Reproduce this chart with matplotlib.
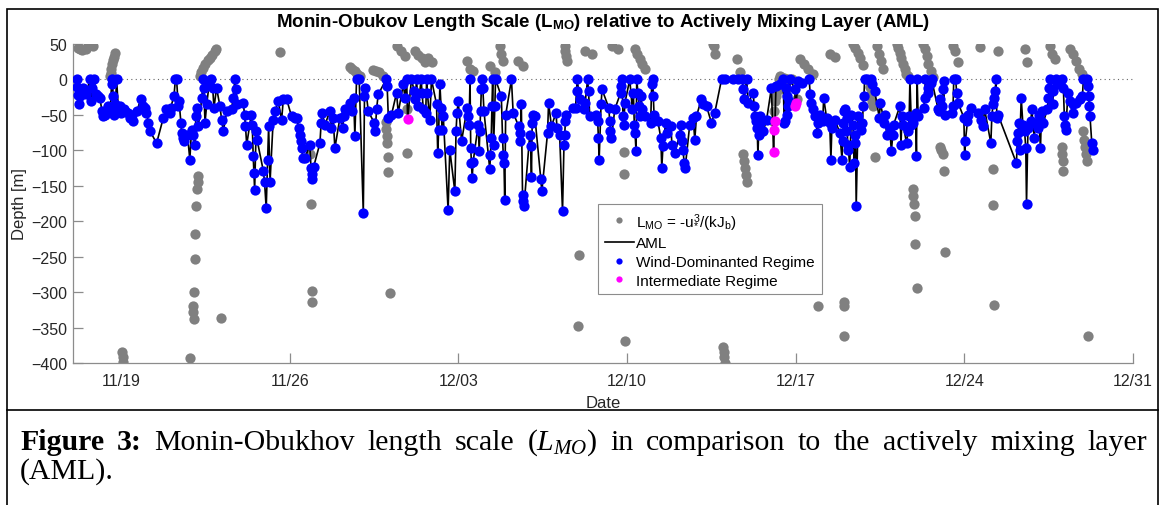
import matplotlib
matplotlib.use("Agg")
import matplotlib.pyplot as plt
import matplotlib.dates as mdates
from matplotlib.lines import Line2D
from matplotlib.patches import Rectangle
import numpy as np
import pandas as pd

plt.rcParams['font.family'] = ['Liberation Sans', 'DejaVu Sans']
plt.rcParams['mathtext.fontset'] = 'custom'
plt.rcParams['mathtext.rm'] = 'Liberation Sans'
plt.rcParams['mathtext.it'] = 'Liberation Serif:italic'
plt.rcParams['mathtext.bf'] = 'Liberation Sans:bold'

# Start of the record; all times below are days after this date
start_date = pd.Timestamp('2019-11-17')

# AML depth in the wind-dominated regime (day, depth in m)
aml_wind = [
    (0.15, 0), (0.18, -10), (0.21, -22), (0.25, -35), (0.30, -24), (0.40, -12), (0.50, -16), (0.55, -20),
    (0.70, 0), (0.75, -31), (0.80, -12), (0.88, 0), (0.95, -20), (1.05, -24), (1.12, -26), (1.20, -45),
    (1.26, -52), (1.32, -50), (1.38, -48), (1.47, -38), (1.55, -45), (1.60, -7), (1.63, 0), (1.67, -24),
    (1.70, -50), (1.76, -35), (1.81, 0), (1.88, -40), (1.95, -38), (2.00, -47), (2.10, -42), (2.16, -45),
    (2.30, -47), (2.37, -54), (2.45, -50), (2.50, -59), (2.65, -45), (2.81, -28), (2.90, -38), (3.00, -40),
    (3.05, -47), (3.13, -61), (3.20, -73), (3.47, -90), (3.75, -54), (3.88, -42), (4.02, -47), (4.05, -40),
    (4.19, -24), (4.25, 0), (4.30, 0), (4.37, -38), (4.40, -30), (4.48, -61), (4.51, -75), (4.55, -83),
    (4.62, -87), (4.75, -78), (4.85, -113), (4.92, -71), (4.98, -78), (5.06, -92), (5.10, -52), (5.15, -40),
    (5.20, -66), (5.35, -26), (5.40, 0), (5.43, -12), (5.48, -61), (5.55, -35), (5.65, -7), (5.72, 0),
    (5.80, -12), (5.85, -40), (5.96, -12), (6.10, -38), (6.17, -57), (6.24, -73), (6.38, -45), (6.58, -42),
    (6.65, -26), (6.72, 0), (6.76, -14), (6.82, -35), (7.07, -33), (7.12, -50), (7.16, -66), (7.21, -92),
    (7.40, -50), (7.44, -64), (7.48, -108), (7.51, -132), (7.54, -156), (7.60, -73), (7.64, -85),
    (7.90, -129), (7.95, -144), (8.02, -182), (8.08, -113), (8.12, -66), (8.18, -144), (8.31, -57),
    (8.38, -45), (8.52, -31), (8.66, -57), (8.73, -28), (8.87, -28), (9.07, -52), (9.20, -54), (9.28, -55),
    (9.38, -68), (9.42, -78), (9.47, -87), (9.50, -97), (9.53, -111), (9.63, -111), (9.83, -92),
    (9.88, -125), (9.91, -134), (9.94, -141), (9.99, -123), (10.25, -90), (10.30, -61), (10.34, -47),
    (10.46, -64), (10.66, -45), (10.73, -68), (10.80, -54), (10.87, -97), (11.08, -54), (11.20, -68),
    (11.24, -52), (11.29, -42), (11.49, -33), (11.60, -45), (11.65, -26), (11.70, -80), (11.77, 0),
    (11.88, 0), (12.05, -188), (12.10, -24), (12.14, -12), (12.26, -45), (12.50, -61), (12.55, -73),
    (12.60, -42), (12.67, -21), (13.00, 0), (13.04, -9), (13.09, -54), (13.22, -50), (13.43, -19),
    (13.50, -47), (13.71, -7), (13.78, -26), (13.85, 0), (14.05, 0), (14.17, -17), (14.21, -28),
    (14.26, 0), (14.33, -38), (14.45, 0), (14.49, -19), (14.54, -42), (14.64, -47), (14.68, 0),
    (14.71, -19), (14.81, -57), (14.88, 0), (15.09, -35), (15.14, -104), (15.18, -71), (15.23, -7),
    (15.28, -40), (15.32, -71), (15.37, -52), (15.57, -184), (15.64, -99), (15.85, -158), (15.90, -73),
    (15.94, -47), (15.99, -31), (16.13, -87), (16.36, -40), (16.40, -52), (16.44, -64), (16.48, 0),
    (16.51, -97), (16.54, -118), (16.57, -139), (16.61, -116), (16.82, -64), (16.86, -101), (16.89, -73),
    (16.92, -45), (16.95, -14), (16.98, 0), (17.01, -12), (17.06, -45), (17.30, -127), (17.33, -106),
    (17.36, -83), (17.39, -38), (17.42, 0), (17.46, -92), (17.51, -38), (17.54, 0), (17.78, -24),
    (17.83, -83), (17.86, -106), (17.89, -118), (17.92, -170), (17.96, -50), (18.20, 0), (18.27, -47),
    (18.50, -66), (18.54, -75), (18.57, -87), (18.61, -35), (18.66, -163), (18.69, -172), (18.72, -179),
    (18.96, -78), (19.00, -94), (19.03, -137), (19.06, -61), (19.09, -50), (19.17, -52), (19.42, -141),
    (19.46, -158), (19.70, -75), (19.74, -33), (19.86, -66), (20.05, -47), (20.09, -68), (20.20, -78),
    (20.32, -186), (20.38, -92), (20.41, -78), (20.44, -59), (20.48, -50), (20.76, -40), (20.86, -40),
    (20.90, -17), (20.93, 0), (21.03, -28), (21.22, -42), (21.26, -33), (21.36, 0), (21.40, -17),
    (21.45, -52), (21.73, -50), (21.78, -59), (21.81, -83), (21.84, -113), (21.92, -35), (21.96, -14),
    (22.24, -40), (22.28, -59), (22.31, -73), (22.35, -83), (22.49, -42), (22.73, -19), (22.76, -9),
    (22.79, 0), (22.83, -52), (22.86, -64), (22.91, -33), (23.11, 0), (23.22, -42), (23.26, -19),
    (23.30, -64), (23.33, -75), (23.37, -101), (23.40, 0), (23.45, -19), (23.50, -38), (23.54, -52),
    (23.58, -24), (23.62, -42), (23.73, -52), (23.98, -61), (24.02, -7), (24.06, 0), (24.09, -24),
    (24.12, -50), (24.16, -57), (24.28, -59), (24.40, -83), (24.44, -125), (24.49, -94), (24.60, -61),
    (24.65, -75), (24.82, -66), (24.86, -92), (24.98, -104), (25.18, -78), (25.23, -64), (25.27, -87),
    (25.32, -99), (25.37, -118), (25.41, -125), (25.60, -64), (25.74, -54), (25.81, -85), (25.88, -52),
    (26.08, -28), (26.15, -35), (26.30, -38), (26.50, -61), (26.64, -47), (26.92, 0), (27.06, 0),
    (27.40, 0), (27.61, 0), (27.78, 0), (27.82, -14), (27.86, -28), (27.96, 0), (28.03, -33),
    (28.23, -19), (28.28, -38), (28.32, -52), (28.36, -59), (28.40, -68), (28.43, -106), (28.46, -78),
    (28.50, -61), (28.53, -52), (28.65, -73), (28.79, -57), (28.99, -12), (29.18, -9), (29.34, -7),
    (29.48, 0), (29.52, -61), (29.55, -59), (29.58, -12), (29.62, -50), (29.65, -24), (29.69, -38),
    (29.73, -31), (29.77, 0), (29.96, -14), (30.10, -2), (30.24, -5), (30.56, 0), (30.60, -21),
    (30.65, -33), (30.72, -42), (30.79, -52), (30.90, -75), (30.94, -61), (31.00, -50), (31.12, -59),
    (31.16, -26), (31.28, -54), (31.41, -61), (31.46, -113), (31.50, -68), (31.62, -57), (31.83, -75),
    (31.92, -113), (31.95, -87), (31.98, -61), (32.01, -45), (32.04, -42), (32.09, -73), (32.12, -54),
    (32.16, -92), (32.19, -99), (32.24, -123), (32.31, -50), (32.38, -64), (32.42, -118), (32.45, -90),
    (32.48, -78), (32.51, -179), (32.59, -52), (32.73, -71), (32.77, -61), (32.80, -38), (32.83, -24),
    (32.86, 0), (32.94, 0), (33.12, 0), (33.16, -7), (33.28, -17), (33.47, -54), (33.51, -33),
    (33.68, -61), (33.72, -50), (33.77, -78), (33.90, -68), (33.97, -101), (34.03, -78), (34.06, -64),
    (34.32, -38), (34.37, -92), (34.41, -52), (34.46, -64), (34.60, -90), (34.66, -73), (34.71, -52),
    (34.74, 0), (34.80, -64), (34.87, -61), (34.98, -47), (35.01, -108), (35.04, 0), (35.08, -52),
    (35.32, -40), (35.35, -26), (35.38, 0), (35.47, -19), (35.51, -12), (35.60, -5), (35.64, 0),
    (35.91, -42), (35.96, -45), (35.99, -28), (36.07, -38), (36.11, -14), (36.14, -2), (36.18, -50),
    (36.50, -47), (36.53, -38), (36.56, 0), (36.64, 0), (36.68, -19), (36.74, -33), (36.98, -54),
    (37.01, -106), (37.04, -87), (37.13, -59), (37.17, -50), (37.29, -40), (37.57, -47), (37.70, -57),
    (37.77, -66), (37.84, -42), (38.10, -90), (38.14, -52), (38.19, -35), (38.24, -26), (38.28, -17),
    (38.31, 0), (38.35, -54), (38.40, -50), (39.16, -118), (39.20, -87), (39.23, -75), (39.26, -61),
    (39.29, -99), (39.36, -26), (39.43, -64), (39.50, -73), (39.55, -97), (39.58, -176), (39.64, -68),
    (39.76, -59), (39.80, -42), (39.90, -83), (39.94, -61), (40.04, -68), (40.08, -50), (40.16, -97),
    (40.19, -59), (40.22, -45), (40.27, -61), (40.45, -42), (40.49, -26), (40.53, -12), (40.56, 0),
    (40.66, -35), (40.70, -17), (40.80, 0), (40.84, -7), (40.95, -7), (41.07, 0), (41.11, -12),
    (41.15, -52), (41.18, -64), (41.21, -71), (41.30, -19), (41.37, -31), (41.49, -47), (41.53, -35),
    (41.65, -33), (41.78, -28), (41.90, -24), (41.94, 0), (42.10, 0), (42.13, -9), (42.16, -24),
    (42.19, -38), (42.22, -52), (42.29, -90), (42.33, -99),
]

# AML depth in the intermediate regime (day, depth in m)
aml_intermediate = [
    (13.89, -56), (29.08, -102), (29.11, -71), (29.14, -59), (29.99, -38), (30.02, -33),
]

# Monin-Obukhov length (day, L_MO in m), shown within the depth range only
lmo_points = [
    (0.21, 45), (0.30, 43), (0.37, 41), (0.54, 43), (0.62, 47), (0.71, 48), (0.78, 50), (0.83, 47),
    (1.54, 5), (1.56, 9), (1.58, 15), (1.62, 22), (1.66, 27), (1.70, 32), (1.74, 38),
    (2.05, -385), (2.07, -392), (2.09, -398),
    (4.85, -393), (4.98, -320), (5.00, -328), (5.02, -338), (5.04, -300), (5.06, -253), (5.08, -218),
    (5.12, -178), (5.15, -155), (5.17, -145), (5.19, -136),
    (5.27, 5), (5.32, 10), (5.40, 16), (5.50, 22), (5.60, 27), (5.70, 30), (5.78, 35), (5.88, 40), (5.95, 43),
    (6.14, -337), (8.59, 39),
    (9.83, -105), (9.88, -176), (9.90, -299), (9.92, -314),
    (11.49, 17), (11.60, 15), (11.70, 12), (11.80, 8), (11.91, 5),
    (12.45, 14), (12.58, 12), (12.70, 10), (12.86, 5),
    (12.98, -60), (13.00, -70), (13.02, -80), (13.04, -90), (13.06, -110), (13.08, -130), (13.15, -301),
    (13.44, 47), (13.61, 40), (13.78, 33), (13.86, -42), (13.88, -104),
    (14.19, 40), (14.33, 35), (14.47, 30), (14.61, 25), (14.75, 30), (14.90, 25),
    (16.35, 26), (16.48, 15), (16.60, 12), (17.30, 19), (17.51, 10),
    (17.72, 47), (17.78, 36), (17.84, 26), (18.46, 26), (18.67, 19),
    (20.41, 47), (20.44, 40), (20.47, 33), (20.50, 26), (20.95, -348), (21.00, -248),
    (21.24, 40), (21.54, 36), (22.37, 47), (22.61, 43),
    (22.86, -103), (22.88, -133), (22.90, -369),
    (23.32, 43), (23.42, 36), (23.52, 29), (23.63, 22), (23.73, 15),
    (26.56, 50), (26.60, 47), (26.64, 36),
    (26.99, -378), (27.01, -385), (27.03, -392), (27.05, -400),
    (27.55, 29), (27.68, 10),
    (27.80, -105), (27.84, -115), (27.88, -125), (27.92, -135), (27.97, -145),
    (29.05, -58), (29.10, -45), (29.15, -30), (29.20, -23), (29.25, -15), (29.30, 0), (29.34, 5),
    (29.50, 2), (29.65, 0), (29.83, 0), (30.04, -28),
    (30.17, 29), (30.35, 22), (30.50, 15), (30.70, 8), (30.91, -320),
    (31.41, 36), (31.62, 32), (31.99, -314), (32.00, -362), (32.02, -320),
    (32.37, 50), (32.48, 45), (32.58, 38), (32.68, 30), (32.78, 20),
    (33.07, -11), (33.12, -20), (33.17, -30), (33.22, -37), (33.28, -110),
    (33.36, 47), (33.45, 36), (33.53, 26), (33.61, 15),
    (34.19, 50), (34.25, 45), (34.31, 38), (34.38, 30), (34.45, 22), (34.52, 15), (34.58, 8), (34.65, 5),
    (34.85, -155), (34.88, -165), (34.91, -175), (34.94, -193), (34.97, -232), (35.02, -294),
    (35.27, 50), (35.35, 43), (35.43, 33), (35.51, 22), (35.60, 12), (35.68, 3),
    (35.98, -95), (36.05, -100), (36.12, -105), (36.15, -129), (36.18, -243),
    (36.51, 47), (36.62, 40), (36.72, 24), (37.63, 46),
    (38.17, -127), (38.20, -177), (38.22, -318), (38.38, 40),
    (39.50, 43), (39.59, 24), (40.54, 47), (40.65, 36), (40.75, 29),
    (41.04, -96), (41.06, -105), (41.08, -115), (41.10, -129),
    (41.37, 43), (41.50, 36), (41.62, 26), (41.75, 15), (41.87, 8),
    (41.91, -73), (41.95, -85), (41.99, -95), (42.03, -105), (42.08, -115), (42.12, -362),
]

# Axis settings
y_ticks = list(range(-400, 51, 50))
x_ticks = pd.date_range('2019-11-19', '2019-12-31', freq='7D')

caption_line1 = ["Figure", "3:", "Monin-Obukhov", "length", "scale", "($L_{MO}$)", "in",
                 "comparison", "to", "the", "actively", "mixing", "layer"]
caption_line2 = "(AML)."


def to_dates(days):
    return mdates.date2num(start_date) + np.asarray(days, dtype=float)


W, H = 1162, 506
fig = plt.figure(figsize=(W / 100, H / 100), dpi=100)
ax = fig.add_axes([73 / W, 1 - 364 / H, (1133 - 73) / W, (364 - 45) / H])

wind = np.array(aml_wind)
inter = np.array(aml_intermediate)
lmo = np.array(lmo_points)
# The AML line runs through both regimes in time order
aml_all = np.concatenate([wind, inter])
aml_all = aml_all[np.argsort(aml_all[:, 0])]

ms = 7.4
ax.axhline(0, color='#666666', linestyle=(0, (1, 3)), linewidth=0.8, zorder=1)
ax.plot(to_dates(lmo[:, 0]), lmo[:, 1], 'o', color='#808080', markersize=ms, markeredgewidth=0, zorder=2)
ax.plot(to_dates(aml_all[:, 0]), aml_all[:, 1], '-', color='black', linewidth=1.2, zorder=3)
ax.plot(to_dates(wind[:, 0]), wind[:, 1], 'o', color='#0000ff', markersize=ms, markeredgewidth=0, zorder=4)
ax.plot(to_dates(inter[:, 0]), inter[:, 1], 'o', color='#ff00ff', markersize=ms, markeredgewidth=0, zorder=5)

ax.set_xlim(to_dates([0, 44]))
ax.set_ylim(-400, 50)
ax.set_yticks(y_ticks)
ax.set_xticks(mdates.date2num(x_ticks))
ax.xaxis.set_major_formatter(mdates.DateFormatter('%m/%d'))

for side in ['top', 'right']:
    ax.spines[side].set_visible(False)
for side in ['left', 'bottom']:
    ax.spines[side].set_color('#8c8c8c')
    ax.spines[side].set_linewidth(0.9)
ax.tick_params(direction='in', length=7.5, width=0.9, color='#8c8c8c', labelcolor='#262626', labelsize=11.5)
ax.tick_params(axis='x', pad=7)
ax.tick_params(axis='y', pad=4)

ax.set_xlabel('Date', fontsize=12, color='#262626', labelpad=5)
ax.set_ylabel('Depth [m]', fontsize=12, color='#262626', labelpad=3)
ax.set_title(r'Monin-Obukov Length Scale (L$_{\mathbf{MO}}$) relative to Actively Mixing Layer (AML)',
             fontsize=13.5, fontweight='bold', pad=13)

handles = [
    Line2D([], [], marker='o', linestyle='none', color='#808080', markersize=4.5, markeredgewidth=0),
    Line2D([], [], color='black', linewidth=1.2),
    Line2D([], [], marker='o', linestyle='none', color='#0000ff', markersize=4.5, markeredgewidth=0),
    Line2D([], [], marker='o', linestyle='none', color='#ff00ff', markersize=4.5, markeredgewidth=0),
]
labels = [r'L$_{\mathrm{MO}}$ = -u$^{3}_{*}$/(kJ$_{\mathrm{b}}$)', 'AML',
          'Wind-Dominanted Regime', 'Intermediate Regime']
leg = ax.legend(handles, labels, loc='upper left', bbox_to_anchor=(598 / W, 1 - 205 / H),
                bbox_transform=fig.transFigure, fontsize=11, handlelength=1.9, handletextpad=0.15,
                labelspacing=0.3, borderpad=0.45, borderaxespad=0, fancybox=False, framealpha=1)
leg.get_frame().set_edgecolor('#8c8c8c')
leg.get_frame().set_linewidth(0.8)

# Page frame and caption box
fig.patches.append(Rectangle((7 / W, -0.1), (1158 - 7) / W, 1.1 - 10 / H, transform=fig.transFigure,
                             fill=False, edgecolor='black', linewidth=1.2))
fig.add_artist(Line2D([7 / W, 1158 / W], [1 - 411 / H, 1 - 411 / H], transform=fig.transFigure,
                      color='black', linewidth=1.2))

# Justified first caption line
cap_size = 21.5
cap_texts = []
for i, word in enumerate(caption_line1):
    cap_texts.append(fig.text(0, 1 - 450 / H, word, fontsize=cap_size, family='Liberation Serif',
                              fontweight='bold' if i < 2 else 'normal', va='baseline'))
fig.text(20 / W, 1 - 479 / H, caption_line2, fontsize=cap_size, family='Liberation Serif', va='baseline')

fig.canvas.draw()
renderer = fig.canvas.get_renderer()
widths = [t.get_window_extent(renderer).width for t in cap_texts]
gap = ((1147 - 20) - sum(widths)) / (len(widths) - 1)
x = 20.0
for t, w in zip(cap_texts, widths):
    t.set_x(x / W)
    x += w + gap

fig.savefig('out.png', dpi=100)
